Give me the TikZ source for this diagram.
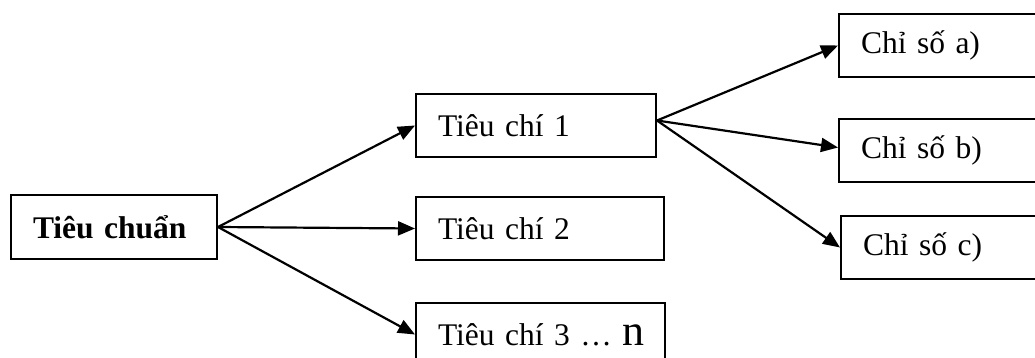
\documentclass[tikz,border=0pt]{standalone}
\usepackage{fontspec}
\setmainfont{Liberation Serif}
\usetikzlibrary{arrows.meta}
\tikzset{
  box/.style={draw, line width=2pt, rectangle, inner xsep=22pt, inner ysep=0pt, align=left, minimum height=63pt, font=\fontsize{31.5}{36}\selectfont},
  conn/.style={line width=2.2pt, -{Triangle[length=17pt,width=14pt]}}
}
\begin{document}
\begin{tikzpicture}[x=1pt,y=-1pt]
\useasboundingbox (0,0) rectangle (1035,358);
\clip (0,0) rectangle (1035,358);
\fill[white] (0,0) rectangle (1035,358);
\node[box, text width=162pt, minimum height=64pt] (tc) at (114,227) {\textbf{Tiêu chuẩn}};
\node[box, text width=196pt] (t1) at (536,125.5) {Tiêu chí 1};
\node[box, text width=204pt] (t2) at (540,228.5) {Tiêu chí 2};
\node[box, text width=205pt] (t3) at (540.5,334.5) {\mbox{Tiêu chí 3 … {\fontsize{44}{50}\selectfont n}}};
\node[box, text width=162pt] (ca) at (942,45.5) {Chỉ số a)};
\node[box, text width=162pt] (cb) at (942,150.5) {Chỉ số b)};
\node[box, text width=160pt] (cc) at (943,247.5) {Chỉ số c)};
\coordinate (o1) at ([yshift=5pt]t1.east);
\coordinate (bin) at ([yshift=3pt]cb.west);
\draw[conn] (tc.east) -- (t1.west);
\draw[conn] (tc.east) -- (t2.west);
\draw[conn] (tc.east) -- (t3.west);
\draw[conn] (o1) -- (ca.west);
\draw[conn] (o1) -- (bin);
\draw[conn] (o1) -- (cc.west);
\end{tikzpicture}
\end{document}
